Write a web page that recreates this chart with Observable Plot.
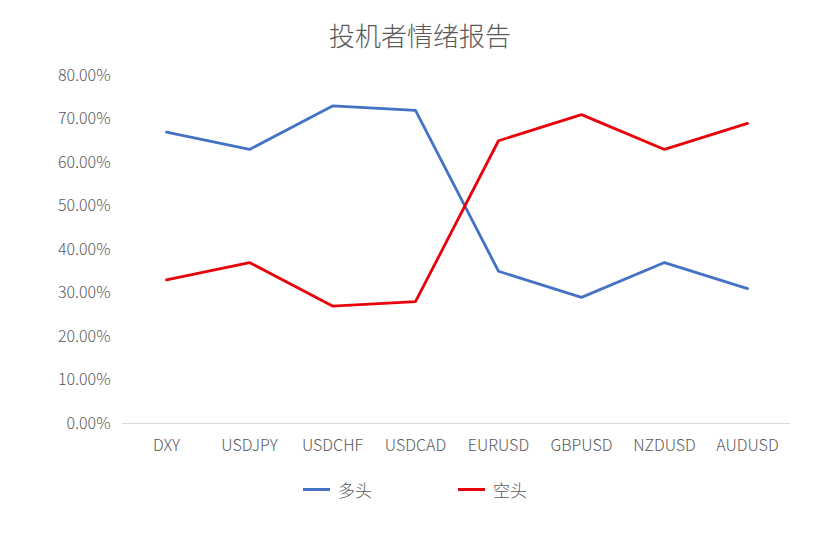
<!DOCTYPE html>
<html><head><meta charset="utf-8">
<script src="https://cdn.jsdelivr.net/npm/d3@7"></script>
<script src="https://cdn.jsdelivr.net/npm/@observablehq/plot@0.6"></script>
<style>
body{margin:0;background:#fff;font-family:"Noto Sans CJK SC","Noto Sans",sans-serif;color:#595959;}
#wrap{width:840px;height:537px;position:relative;overflow:hidden;}
#title{position:absolute;top:16px;left:0;width:840px;text-align:center;font-size:26px;line-height:38px;color:#595959;font-weight:300;}
#chart{position:absolute;top:60px;left:0;}
#chart text{font-weight:300;}
#legend{position:absolute;top:477px;left:0;width:840px;height:28px;}
.li{position:absolute;display:flex;align-items:center;font-size:17px;color:#595959;font-weight:300;}
.sw{width:27px;height:3px;margin-right:8px;}
</style></head>
<body><div id="wrap">
<div id="title">投机者情绪报告</div>
<div id="chart"></div>
<div id="legend"></div>
</div>
<script>
const categories = ["DXY","USDJPY","USDCHF","USDCAD","EURUSD","GBPUSD","NZDUSD","AUDUSD"];
const longValues = [0.67,0.63,0.73,0.72,0.35,0.29,0.37,0.31];
const shortValues = [0.33,0.37,0.27,0.28,0.65,0.71,0.63,0.69];
const seriesNames = ["多头","空头"];
const seriesColors = ["#4472C4","#E8000B"];
const yTicks = [0,0.1,0.2,0.3,0.4,0.5,0.6,0.7,0.8];

const data = [];
categories.forEach((c,i)=>{
  data.push({cat:c, v:longValues[i], s:seriesNames[0]});
  data.push({cat:c, v:shortValues[i], s:seriesNames[1]});
});

const plot = Plot.plot({
  width: 840,
  height: 400,
  marginTop: 15,
  marginBottom: 37,
  marginLeft: 122,
  marginRight: 50,
  style: {fontFamily: '"Noto Sans CJK SC","Noto Sans",sans-serif', fontSize: "16px", color: "#595959", background: "white"},
  x: {type: "point", domain: categories, padding: 0.5, label: null},
  y: {domain: [0,0.8], label: null},
  color: {domain: seriesNames, range: seriesColors},
  marks: [
    Plot.ruleY([0], {stroke: "#d9d9d9", strokeWidth: 1}),
    Plot.axisY({ticks: yTicks, tickSize: 0, tickPadding: 12, tickFormat: d => (d*100).toFixed(2) + "%", label: null, fontSize: 16}),
    Plot.axisX({tickSize: 0, tickPadding: 16, label: null, fontSize: 16}),
    Plot.line(data, {x: "cat", y: "v", z: "s", stroke: "s", strokeWidth: 2.8, curve: "linear"})
  ]
});
document.getElementById("chart").appendChild(plot);

const legend = document.getElementById("legend");
const lefts = [303, 458];
seriesNames.forEach((n,i)=>{
  const d = document.createElement("div");
  d.className = "li";
  d.style.left = lefts[i] + "px";
  d.style.top = "0px";
  d.innerHTML = `<span class="sw" style="background:${seriesColors[i]}"></span><span>${n}</span>`;
  legend.appendChild(d);
});
</script>
</body></html>
